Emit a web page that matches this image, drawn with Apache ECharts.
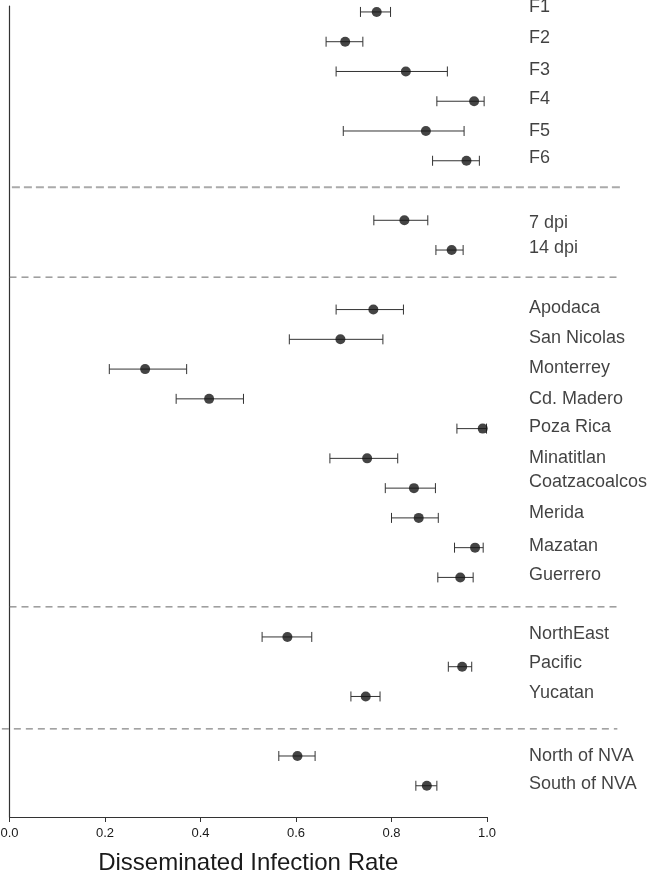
<!DOCTYPE html>
<html>
<head>
<meta charset="utf-8">
<script src="https://cdn.jsdelivr.net/npm/echarts@6/dist/echarts.min.js"></script>
<style>
  html, body { margin: 0; padding: 0; background: #fff; }
  #chart { width: 650px; height: 876px; }
</style>
</head>
<body>
<div id="chart"></div>
<script>
// groups top to bottom
const rowLabels = ['F1', 'F2', 'F3', 'F4', 'F5', 'F6', '7 dpi', '14 dpi',
  'Apodaca', 'San Nicolas', 'Monterrey', 'Cd. Madero', 'Poza Rica', 'Minatitlan',
  'Coatzacoalcos', 'Merida', 'Mazatan', 'Guerrero', 'NorthEast', 'Pacific', 'Yucatan',
  'North of NVA', 'South of NVA']
// row slot of each point (gaps where the dashed separators go)
const rowPos = [0, 1, 2, 3, 4, 5, 7, 8, 10, 11, 12, 13, 14, 15, 16, 17, 18, 19, 21, 22, 23, 25, 26]
// text rows are a bit off from the points in a few places
const labelPos = [-0.15, 0.88, 1.96, 2.93, 4.0, 4.91, 7.1, 7.93, 9.95, 10.95, 11.96, 13.0, 13.94,
  15.0, 15.78, 16.85, 17.94, 18.92, 20.9, 21.87, 22.88, 24.99, 25.93]

const rateMean = [0.769, 0.703, 0.830, 0.973, 0.872, 0.957, 0.827, 0.926,
  0.762, 0.693, 0.284, 0.418, 0.991, 0.749, 0.847, 0.857, 0.975, 0.944,
  0.582, 0.948, 0.746, 0.603, 0.874]
const rateLow = [0.735, 0.663, 0.684, 0.895, 0.699, 0.886, 0.763, 0.893,
  0.684, 0.586, 0.209, 0.349, 0.937, 0.671, 0.787, 0.800, 0.932, 0.897,
  0.529, 0.919, 0.715, 0.564, 0.851]
const rateHigh = [0.798, 0.740, 0.917, 0.994, 0.952, 0.984, 0.876, 0.950,
  0.825, 0.782, 0.371, 0.490, 0.999, 0.813, 0.892, 0.898, 0.992, 0.971,
  0.633, 0.968, 0.776, 0.640, 0.895]

// dashed separators between groups
const sepRows = [5.89, 8.91, 19.99, 24.09]
const sepStart = [0.005, 0, 0, -0.016]
const sepEnd = [1.282, 1.279, 1.281, 1.273]

const xTicks = [0, 0.2, 0.4, 0.6, 0.8, 1.0]

const font = '"Liberation Sans", Arial, sans-serif'
const chart = echarts.init(document.getElementById('chart'))

const barData = rowPos.map((r, i) => [rateLow[i], rateHigh[i], r])
const pointData = rowPos.map((r, i) => [rateMean[i], r])
const labelData = labelPos.map((r, i) => ({ value: [1.0, r], name: rowLabels[i] }))
const sepData = sepRows.map((r, i) => [sepStart[i], sepEnd[i], r, i])

const option = {
  animation: false,
  backgroundColor: '#fff',
  grid: {
    left: 9.5,
    right: 163,
    top: 6,
    bottom: 59,
    containLabel: false,
    outerBoundsMode: 'none'
  },
  xAxis: {
    type: 'value',
    min: xTicks[0],
    max: xTicks[xTicks.length - 1],
    interval: 0.2,
    name: 'Disseminated Infection Rate',
    nameLocation: 'middle',
    nameGap: 34,
    nameTextStyle: { fontFamily: font, fontSize: 24, color: '#1a1a1a' },
    axisLine: { show: true, onZero: false, lineStyle: { color: '#333', width: 1.2 } },
    axisTick: { show: true, length: 5, lineStyle: { color: '#333' } },
    axisLabel: {
      fontFamily: font, fontSize: 13, color: '#1a1a1a', margin: 10,
      formatter: v => v.toFixed(1)
    },
    splitLine: { show: false }
  },
  yAxis: {
    type: 'value',
    inverse: true,
    min: -0.2,
    max: 27.05,
    axisLine: { show: true, onZero: false, lineStyle: { color: '#333', width: 1.2 } },
    axisTick: { show: false },
    axisLabel: { show: false },
    splitLine: { show: false }
  },
  series: [
    {
      type: 'custom',
      name: 'separators',
      clip: false,
      silent: true,
      encode: { x: [0, 1], y: 2 },
      data: sepData,
      renderItem: (params, api) => {
        const a = api.coord([api.value(0), api.value(2)])
        const b = api.coord([api.value(1), api.value(2)])
        const first = api.value(3) === 0
        return {
          type: 'line',
          shape: { x1: a[0], y1: a[1], x2: b[0], y2: b[1] },
          style: {
            stroke: first ? '#aaa' : '#666',
            lineWidth: first ? 2 : 1,
            lineDash: first ? [8, 4] : [7, 5]
          }
        }
      }
    },
    {
      type: 'custom',
      name: 'ci',
      clip: false,
      encode: { x: [0, 1], y: 2 },
      data: barData,
      renderItem: (params, api) => {
        const a = api.coord([api.value(0), api.value(2)])
        const b = api.coord([api.value(1), api.value(2)])
        const h = 5
        const st = { stroke: '#333', lineWidth: 1 }
        return {
          type: 'group',
          children: [
            { type: 'line', shape: { x1: a[0], y1: a[1], x2: b[0], y2: b[1] }, style: st },
            { type: 'line', shape: { x1: a[0], y1: a[1] - h, x2: a[0], y2: a[1] + h }, style: st },
            { type: 'line', shape: { x1: b[0], y1: b[1] - h, x2: b[0], y2: b[1] + h }, style: st }
          ]
        }
      }
    },
    {
      type: 'scatter',
      name: 'mean',
      clip: false,
      symbol: 'circle',
      symbolSize: 10,
      itemStyle: { color: '#151515' },
      data: pointData
    },
    {
      type: 'scatter',
      name: 'labels',
      clip: false,
      symbolSize: 0,
      silent: true,
      data: labelData,
      label: {
        show: true,
        position: 'right',
        distance: 42,
        formatter: p => p.name,
        fontFamily: font,
        fontSize: 18,
        color: '#111'
      }
    }
  ]
}

chart.setOption(option)
</script>
</body>
</html>
